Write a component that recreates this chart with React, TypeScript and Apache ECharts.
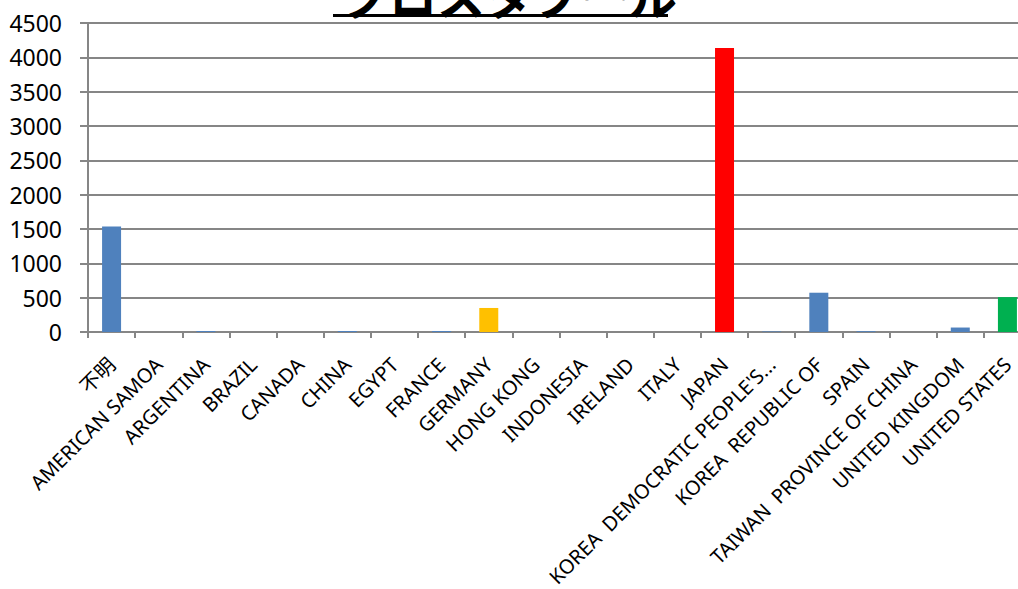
import React, { useEffect, useRef } from "react";
import * as echarts from "echarts";

const titleText = "クロスタブール";
const categories = [
  "不明",
  "AMERICAN SAMOA",
  "ARGENTINA",
  "BRAZIL",
  "CANADA",
  "CHINA",
  "EGYPT",
  "FRANCE",
  "GERMANY",
  "HONG KONG",
  "INDONESIA",
  "IRELAND",
  "ITALY",
  "JAPAN",
  "KOREA  DEMOCRATIC PEOPLE'S...",
  "KOREA  REPUBLIC OF",
  "SPAIN",
  "TAIWAN  PROVINCE OF CHINA",
  "UNITED KINGDOM",
  "UNITED STATES",
];
const values = [1535, 0, 15, 0, 0, 15, 0, 15, 350, 0, 0, 0, 0, 4135, 8, 572, 12, 0, 65, 508];
const barColors = [
  "#4F81BD", "#4F81BD", "#4F81BD", "#4F81BD", "#4F81BD",
  "#4F81BD", "#4F81BD", "#4F81BD", "#FFC000", "#4F81BD",
  "#4F81BD", "#4F81BD", "#4F81BD", "#FF0000", "#4F81BD",
  "#4F81BD", "#4F81BD", "#4F81BD", "#4F81BD", "#00B050",
];
const yMin = 0;
const yMax = 4500;
const yInterval = 500;

export default function App() {
  const ref = useRef<HTMLDivElement>(null);
  useEffect(() => {
    if (!ref.current) return;
    const chart = echarts.init(ref.current, undefined, { renderer: "svg" });
    const font = "'Noto Sans', 'Noto Sans CJK JP', sans-serif";
    const gray = "#868686";
    chart.setOption({
      animation: false,
      backgroundColor: "#ffffff",
      graphic: [
        {
          type: "text",
          left: "center",
          top: -30,
          style: {
            text: titleText,
            font: "bold 48px 'Noto Sans CJK JP', sans-serif",
            fill: "#000000",
          },
        },
        {
          type: "line",
          shape: { x1: 333, y1: 15.5, x2: 668, y2: 15.5 },
          style: { stroke: "#000000", lineWidth: 3 },
        },
      ],
      grid: {
        left: 88,
        right: -13,
        top: 23,
        bottom: 257,
        containLabel: false,
        outerBoundsMode: "none",
      },
      xAxis: {
        type: "category",
        data: categories,
        boundaryGap: true,
        axisLine: { show: true, lineStyle: { color: gray, width: 2 } },
        axisTick: { show: true, alignWithLabel: false, length: 6, lineStyle: { color: gray, width: 2 } },
        axisLabel: {
          interval: 0,
          rotate: 45,
          align: "right",
          verticalAlign: "middle",
          margin: 29,
          color: "#000000",
          fontFamily: font,
          fontSize: 20,
        },
        splitLine: { show: false },
      },
      yAxis: {
        type: "value",
        min: yMin,
        max: yMax,
        interval: yInterval,
        axisLine: { show: true, lineStyle: { color: gray, width: 2 } },
        axisTick: { show: true, length: 8, lineStyle: { color: gray, width: 2 } },
        axisLabel: {
          margin: 26,
          color: "#000000",
          fontFamily: font,
          fontSize: 23,
          formatter: (v: number) => String(v),
        },
        splitLine: { show: true, lineStyle: { color: gray, width: 2 } },
      },
      series: [
        {
          type: "bar",
          barWidth: 19,
          data: values.map((v, i) => ({ value: v, itemStyle: { color: barColors[i] } })),
        },
      ],
    });
    return () => chart.dispose();
  }, []);
  return (
    <div
      ref={ref}
      style={{ position: "fixed", left: 0, top: 0, width: 1018, height: 589, background: "#fff" }}
    />
  );
}
